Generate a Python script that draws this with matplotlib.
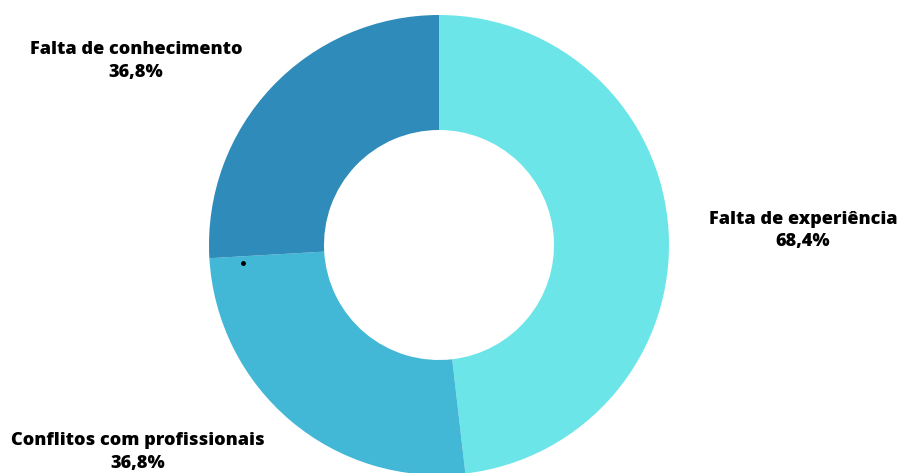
import matplotlib.pyplot as plt

labels = ['Falta de experiência', 'Conflitos com profissionais', 'Falta de conhecimento']
values = [68.4, 36.8, 36.8]
colors = ['#6be5e8', '#42b8d6', '#2e8bba']
# label positions in pie units (radius = 1)
label_pos = [(1.583, 0.063), (-1.309, -0.900), (-1.317, 0.800)]

plt.rcParams['font.family'] = ['Open Sans', 'DejaVu Sans']

fig = plt.figure(figsize=(9.02, 4.73), dpi=100)
# pie centre at (439, 245) px from top-left, radius 230 px
W, H = 902, 473
cx, cy, r = 439, H - 245, 230
ax = fig.add_axes([(cx - r) / W, (cy - r) / H, 2 * r / W, 2 * r / H])

ax.pie(values, colors=colors, startangle=90, counterclock=False,
       wedgeprops=dict(width=0.5, edgecolor='none'))
ax.set_xlim(-1, 1)
ax.set_ylim(-1, 1)
ax.set_aspect('equal')
ax.axis('off')

for lab, v, (x, y) in zip(labels, values, label_pos):
    txt = lab + '\n' + ('%.1f%%' % v).replace('.', ',')
    ax.text(x, y, txt, ha='center', va='center', fontsize=13.1,
            fontweight=800, linespacing=1.42, clip_on=False)

# small stray marker seen in the reference
ax.plot([-0.852], [-0.078], 'o', color='black', markersize=2.5, clip_on=False)

fig.savefig('out.png', dpi=100)
